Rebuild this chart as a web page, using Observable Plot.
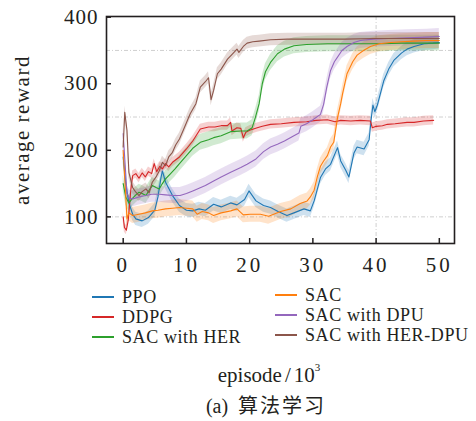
<!DOCTYPE html>
<html><head><meta charset="utf-8">
<script src="https://cdn.jsdelivr.net/npm/d3@7"></script>
<script src="https://cdn.jsdelivr.net/npm/@observablehq/plot@0.6"></script>
<style>
body{margin:0;background:#fff;width:476px;height:421px;position:relative;overflow:hidden;font-family:"Liberation Serif","Times New Roman",Tinos,"DejaVu Serif",serif;color:#231f20}
#chart{position:absolute;left:0;top:0}
.abs{position:absolute;white-space:nowrap;line-height:1}
.leg{position:absolute;font-size:18px;letter-spacing:0.6px;line-height:17px;height:17px;display:flex;align-items:center;white-space:nowrap}
.leg span.sw{display:block;width:22px;height:2px;margin-right:8px}
.leg span.tx{display:block;height:17px;line-height:17px}
svg text{font-family:"Liberation Serif","Times New Roman",Tinos,"DejaVu Serif",serif}
svg [aria-label="x-axis tick label"] text{letter-spacing:3px}
svg [aria-label="y-axis tick label"] text{letter-spacing:1px}
</style></head><body>
<div id="chart"></div>
<script>
const seriesNames = ["PPO","DDPG","SAC with HER","SAC","SAC with DPU","SAC with HER-DPU"];
const seriesColors = ["#1f77b4","#d62728","#2ca02c","#ff7f0e","#9467bd","#8c564b"];
const seriesSpread = [10, 7, 12, 12, 12, 9];
const xTicks = [0,10,20,30,40,50];
const yTicks = [100,200,300,400];
const gridY = [100,250,350];
const gridX = [40];

const ppoX = [0,0.4,0.9,1.5,2,3,4,5,5.5,6,6.2,6.7,7.8,8.9,10,11,12,13,14.3,15.5,17,18,19.2,19.9,21,22.2,23.3,24.5,25.9,27,28.6,29.6,30.2,31.2,32,32.8,33.9,34.4,35.2,35.7,36.5,37,38.1,38.9,39.2,39.5,39.8,40.2,41.2,42,42.8,44,44.9,46,47.6,49,50];
const ppoY = [190,150,121,104,97,94,99,110,130,160,169,152,132,117,110,109,112,110,119,115,121,118,126,139,124,117,114,108,102,106,112,109,124,159,172,179,204,184,170,160,196,205,202,216,245,268,258,268,304,322,335,346,352,356,360,361,362];

const ddpgX = [0,0.2,0.5,0.8,1.2,1.5,2,2.5,3,3.5,4,4.5,4.9,5.3,5.8,6.2,6.7,7.2,7.8,8.9,10,11,12.2,13.5,14.5,15.5,16.5,17,17.2,18,18.6,19,19.4,20,21.2,22,23.3,25,27,29,30.5,32.3,33.5,34.4,36,37.5,39.1,39.4,40,41,41.8,43,44.9,46,47.5,49.1];
const ddpgY = [100,84,80,95,140,162,165,158,166,160,168,165,180,168,176,172,180,175,182,190,202,214,232,235,235,237,237,242,229,234,233,219,227,230,234,236,239,240,242,243,245,246,243,245,244,245,244,234,236,237,239,240,242,242,244,245];

const herX = [0,0.4,0.9,1.5,2,2.5,3,3.6,4.1,4.6,5.2,5.7,6.2,6.7,7.5,8.2,8.9,10,11,12.2,13.5,14.3,15.5,17,18.6,19.6,20.4,20.9,21.5,22,22.5,23.3,24.4,25.5,27,29,32.3,35,38,41,44,47,50];
const herY = [150,130,121,128,133,137,135,132,140,147,144,142,150,157,165,172,180,192,203,212,216,219,222,228,229,229,234,249,270,300,318,332,345,352,357,359,360,360,360,360,361,361,361];

const sacX = [0,0.3,0.6,0.9,1.5,2.5,3.5,4.6,5.5,6.7,7.8,8.9,10,11,11.7,12.5,13.5,14.3,15.5,17,18,19,20.1,21.7,23,24.9,26.5,28,29.1,29.6,30.2,30.7,31.2,31.7,32.3,32.8,33.3,33.9,34.4,34.7,35.4,36.3,37,38,39.1,40.5,42.3,44,46,48,50];
const sacY = [200,150,97,106,102,104,106,109,110,112,113,114,113,112,104,108,106,102,106,109,112,103,104,104,101,108,112,120,124,130,140,160,176,184,192,205,212,249,270,285,315,333,343,350,356,360,362,363,364,365,365];

const dpuX = [0,0.3,0.6,1,1.5,2.5,3.6,4.5,5.7,6.7,7.8,9,10,11,12,13,14.3,15.5,17,18.6,19.6,21,22.2,23.3,24.4,25.5,27,27.8,28.1,29,30,31.2,31.7,32.2,32.8,33.4,33.9,34.6,35.4,36.5,37.5,39.6,42,45,48,50];
const dpuY = [225,180,135,128,127,130,132,134,134,133,132,132,135,139,143,147,154,160,167,174,179,187,198,205,209,214,222,226,236,240,246,254,269,295,320,333,340,350,356,362,365,367,368,369,370,371];

const hdX = [0,0.25,0.6,0.9,1.5,2,2.5,3,3.6,4.1,4.6,5.2,5.7,6.2,6.7,7.2,7.8,8.3,8.9,9.5,10.6,11.5,12.2,13,13.5,13.9,14.3,14.9,15.5,16.5,17.3,18,18.3,19,19.6,20.5,21.5,23.3,26,30,35,40,45,50];
const hdY = [205,257,230,167,144,137,132,138,142,136,152,160,169,182,177,190,197,208,217,230,255,270,295,303,309,276,290,315,322,337,345,352,347,356,361,363,364,366,367,367,367,368,368,368];

const xs = [ppoX, ddpgX, herX, sacX, dpuX, hdX];
const ys = [ppoY, ddpgY, herY, sacY, dpuY, hdY];

const rows = [];
seriesNames.forEach((name, i) => {
  xs[i].forEach((x, j) => rows.push({series: name, x, y: ys[i][j], lo: ys[i][j] - seriesSpread[i], hi: ys[i][j] + seriesSpread[i]}));
});

const W = 476, H = 280, mL = 106, mR = 22, mT = 16, mB = 37;
const innerW = W - mL - mR, innerH = H - mT - mB;
const ink = "#231f20";
const serif = "'Liberation Serif', 'Times New Roman', Tinos, 'DejaVu Serif', serif";
const colorScale = {domain: seriesNames, range: seriesColors};

const bands = seriesNames.map(n => Plot.areaY(rows.filter(r => r.series === n), {x: "x", y1: "lo", y2: "hi", fill: "series", fillOpacity: 0.22}));
const lines = seriesNames.map(n => Plot.line(rows.filter(r => r.series === n), {x: "x", y: "y", stroke: "series", strokeWidth: 1.1}));

const chart = Plot.plot({
  width: W, height: H, marginLeft: mL, marginRight: mR, marginTop: mT, marginBottom: mB,
  x: {domain: [-2.64, 52.4]},
  y: {domain: [60, 401]},
  color: colorScale,
  style: {fontFamily: serif, fontSize: "21px", color: ink, background: "white", overflow: "visible"},
  marks: [
    Plot.ruleY(gridY, {stroke: "#c4c4c4", strokeDasharray: "4,2,1,2", strokeWidth: 0.8}),
    Plot.ruleX(gridX, {stroke: "#c4c4c4", strokeDasharray: "4,2,1,2", strokeWidth: 0.8}),
    ...bands,
    ...lines,
    Plot.ruleX(xTicks, {stroke: ink, strokeWidth: 1.5, insetTop: innerH - 5}),
    Plot.ruleY(yTicks, {stroke: ink, strokeWidth: 1.5, insetRight: innerW - 5}),
    Plot.axisX(xTicks, {tickSize: 0, tickPadding: 14, label: null, fill: ink}),
    Plot.axisY(yTicks, {tickSize: 0, tickPadding: 8, label: null, fill: ink}),
    Plot.frame({stroke: ink, strokeWidth: 1.6})
  ]
});
document.getElementById("chart").append(chart);

const yl = document.createElement("div");
yl.className = "abs";
yl.textContent = "average reward";
yl.style.cssText = "font-size:21px;letter-spacing:1.5px;left:22px;top:130px;transform:translate(-50%,-50%) rotate(-90deg);";
document.body.append(yl);

const legPos = [[92,288.5],[92,308.5],[92,328.5],[275,286.5],[275,306.5],[275,326.5]];
seriesNames.forEach((n, i) => {
  const d = document.createElement("div");
  d.className = "leg";
  d.style.left = legPos[i][0] + "px";
  d.style.top = legPos[i][1] + "px";
  const s = document.createElement("span");
  s.className = "sw"; s.style.background = seriesColors[i];
  const t = document.createElement("span");
  t.className = "tx";
  t.textContent = n;
  d.append(s, t);
  document.body.append(d);
});

const xl = document.createElement("div");
xl.className = "abs";
xl.innerHTML = "episode<span style='margin:0 3px'>/</span>10<sup style='font-size:11px;position:relative;top:-3px'>3</sup>";
xl.style.cssText = "font-size:21px;left:269px;top:375px;transform:translate(-50%,-50%);";
document.body.append(xl);

const cap = document.createElement("div");
cap.className = "abs";
cap.innerHTML = "(a)&nbsp;&nbsp;<span style='font-family:\"Noto Sans CJK SC\";letter-spacing:2px'>算法学习</span>";
cap.style.cssText = "font-size:20px;left:266px;top:405px;transform:translate(-50%,-50%);";
document.body.append(cap);
</script>
</body></html>
